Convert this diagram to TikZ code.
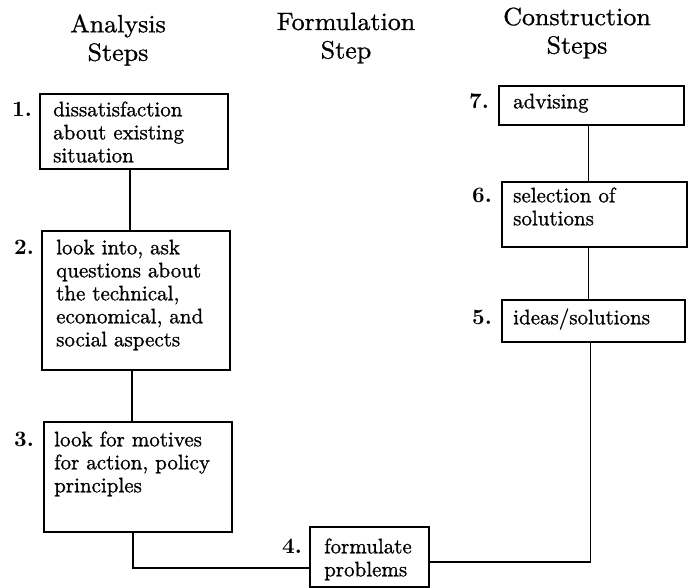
\documentclass[tikz,border=0pt]{standalone}
\usepackage{fontspec}
\usetikzlibrary{calc}
\newfontfamily\boxfont{lmroman10-regular.otf}[FakeBold=1.0]
\newfontfamily\numfont{lmroman10-bold.otf}
\newfontfamily\headfont{lmroman10-regular.otf}[FakeStretch=1.04, FakeBold=0.9]
\begin{document}
\begin{tikzpicture}[x=1pt,y=-1pt,
  box/.style={draw, line width=1.8pt, rectangle, inner sep=0pt, anchor=north west},
  txt/.style={inner sep=0pt, anchor=north west, align=left, font=\boxfont\fontsize{21}{23}\selectfont},
  num/.style={inner sep=0pt, anchor=north east, font=\numfont\fontsize{22}{23}\selectfont},
  head/.style={inner sep=0pt, align=center, font=\headfont\fontsize{25}{28.5}\selectfont},
  conn/.style={line width=1.8pt}]
\useasboundingbox (0,0) rectangle (691,588);

% headers
\node[head] (h1) at (118,40) {Analysis\\Steps};
\node[head] (h2) at (346,38) {Formulation\\Step};
\node[head] (h3) at (577,33) {Construction\\Steps};

% boxes
\node[box, minimum width=188pt, minimum height=75pt] (b1) at (39,93) {};
\node[box, minimum width=188pt, minimum height=139pt] (b2) at (41,230) {};
\node[box, minimum width=188pt, minimum height=110pt] (b3) at (43,421) {};
\node[box, minimum width=119pt, minimum height=60pt] (b4) at (309,526) {};
\node[box, minimum width=185pt, minimum height=39pt] (b7) at (498,85) {};
\node[box, minimum width=185pt, minimum height=65pt] (b6) at (501,181) {};
\node[box, minimum width=183pt, minimum height=42pt] (b5) at (501,299) {};

% texts
\node[txt] (t1) at ($(b1.north west)+(14,7)$) {\strut dissatisfaction\\about existing\\situation};
\node[txt] (t2) at ($(b2.north west)+(15,8)$) {\strut look into, ask\\questions about\\the technical,\\economical, and\\social aspects};
\node[txt] (t3) at ($(b3.north west)+(11,9)$) {\strut look for motives\\for action, policy\\principles};
\node[txt] (t4) at ($(b4.north west)+(15,11)$) {\strut formulate\\problems};
\node[txt] (t7) at ($(b7.north west)+(15,7)$) {\strut advising};
\node[txt] (t6) at ($(b6.north west)+(12,5)$) {\strut selection of\\solutions};
\node[txt] (t5) at ($(b5.north west)+(12,9)$) {\strut ideas/solutions};

% numbers
\node[num] (n1) at ($(b1.north west)+(-7,7)$) {\strut 1.};
\node[num] (n2) at ($(b2.north west)+(-7,8)$) {\strut 2.};
\node[num] (n3) at ($(b3.north west)+(-9,9)$) {\strut 3.};
\node[num] (n4) at ($(b4.north west)+(-7,11)$) {\strut 4.};
\node[num] (n7) at ($(b7.north west)+(-9,7)$) {\strut 7.};
\node[num] (n6) at ($(b6.north west)+(-9,5)$) {\strut 6.};
\node[num] (n5) at ($(b5.north west)+(-9,9)$) {\strut 5.};

% connectors
\draw[conn] ($(b1.south)+(-4,0)$) -- ($(b1.south |- b2.north)+(-4,0)$);
\draw[conn] ($(b2.south)+(-4,0)$) -- ($(b2.south |- b3.north)+(-4,0)$);
\draw[conn] ($(b3.south)+(-5,0)$) |- ($(b4.west)+(0,11)$);
\draw[conn] ($(b4.east)+(0,5)$) -| ($(b5.south)+(-3,0)$);
\draw[conn] ($(b5.north)+(-5,0)$) -- ($(b5.north |- b6.south)+(-5,0)$);
\draw[conn] ($(b6.north)+(-6,0)$) -- ($(b6.north |- b7.south)+(-6,0)$);
\end{tikzpicture}
\end{document}
